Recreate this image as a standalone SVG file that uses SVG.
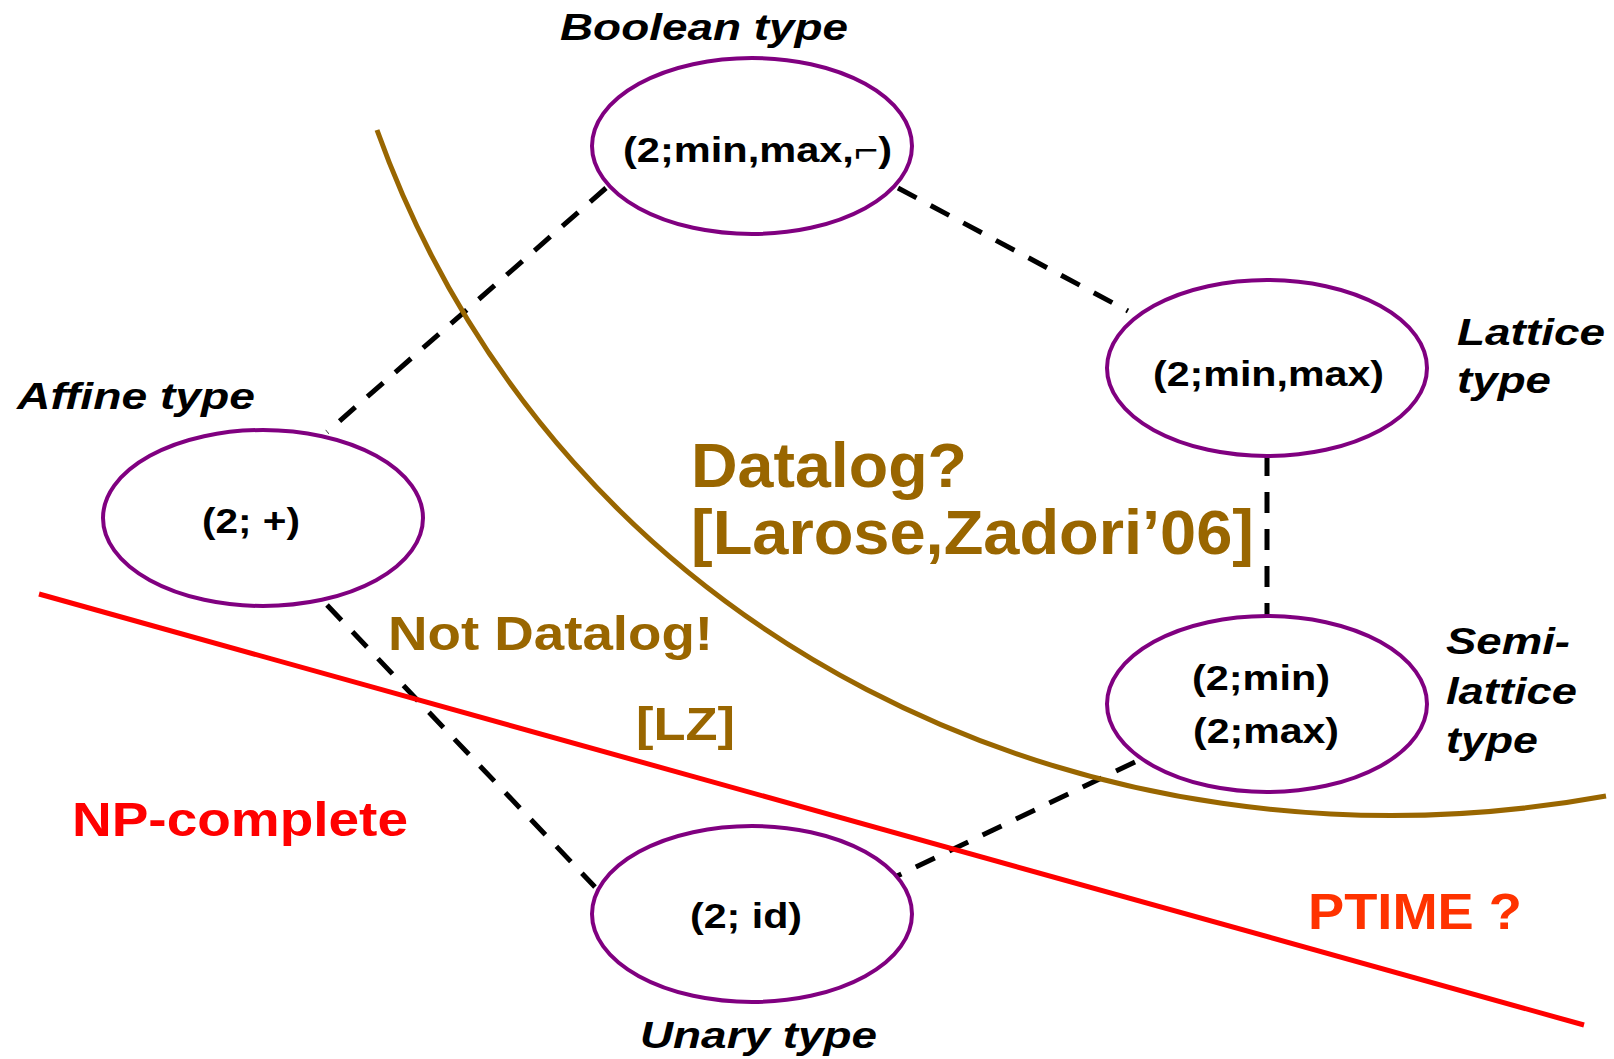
<svg xmlns="http://www.w3.org/2000/svg" width="1614" height="1059" viewBox="0 0 1614 1059">
  <style>
    .node { fill: none; stroke: #800080; stroke-width: 4; }
    .val { font-family: "Liberation Sans", Arial, sans-serif; font-weight: bold; font-size: 35px; fill: #000; }
    .lbl { font-family: "Liberation Sans", Arial, sans-serif; font-weight: bold; font-style: italic; font-size: 37px; fill: #000; }
    .edge { fill: none; stroke: #000; stroke-width: 5; stroke-dasharray: 21 16; }
    .brown { font-family: "Liberation Sans", Arial, sans-serif; font-weight: bold; fill: #996600; }
    .red { font-family: "Liberation Sans", Arial, sans-serif; font-weight: bold; }
  </style>
  <rect width="1614" height="1059" fill="#fff"/>

  <!-- dashed order relations between clone types -->
  <g id="connectors">
    <line class="edge" x1="606" y1="188" x2="327" y2="432"/>
    <line class="edge" x1="898" y1="188" x2="1128" y2="311"/>
    <line class="edge" x1="1267" y1="455" x2="1267" y2="617"/>
    <line class="edge" x1="327" y1="605" x2="595" y2="887"/>
    <line class="edge" x1="1135" y1="762" x2="897" y2="876"/>
  </g>

  <!-- Datalog boundary curve -->
  <path id="datalog-boundary" d="M377 130 C560 640 1090 890 1606 796" fill="none" stroke="#996600" stroke-width="5"/>

  <!-- NP-complete / PTIME separating line -->
  <line id="complexity-boundary" x1="39" y1="594" x2="1584" y2="1025" stroke="#FF0000" stroke-width="5"/>

  <g id="boolean">
    <ellipse class="node" cx="752" cy="146" rx="160" ry="88"/>
    <text class="val" x="623" y="162" textLength="269" lengthAdjust="spacingAndGlyphs">(2;min,max,⌐)</text>
    <text class="lbl" x="560" y="40" textLength="288" lengthAdjust="spacingAndGlyphs">Boolean type</text>
  </g>

  <g id="lattice">
    <ellipse class="node" cx="1267" cy="368" rx="160" ry="88"/>
    <text class="val" x="1153" y="386" textLength="231" lengthAdjust="spacingAndGlyphs">(2;min,max)</text>
    <text class="lbl" x="1457" y="345" textLength="148" lengthAdjust="spacingAndGlyphs">Lattice</text>
    <text class="lbl" x="1457" y="393" textLength="94" lengthAdjust="spacingAndGlyphs">type</text>
  </g>

  <g id="affine">
    <ellipse class="node" cx="263" cy="518" rx="160" ry="88"/>
    <text class="val" x="202" y="533" textLength="98" lengthAdjust="spacingAndGlyphs">(2; +)</text>
    <text class="lbl" x="17" y="409" textLength="238" lengthAdjust="spacingAndGlyphs">Affine type</text>
  </g>

  <g id="semilattice">
    <ellipse class="node" cx="1267" cy="704" rx="160" ry="88"/>
    <text class="val" x="1192" y="690" textLength="138" lengthAdjust="spacingAndGlyphs">(2;min)</text>
    <text class="val" x="1193" y="743" textLength="146" lengthAdjust="spacingAndGlyphs">(2;max)</text>
    <text class="lbl" x="1446" y="654" textLength="124" lengthAdjust="spacingAndGlyphs">Semi-</text>
    <text class="lbl" x="1446" y="704" textLength="131" lengthAdjust="spacingAndGlyphs">lattice</text>
    <text class="lbl" x="1446" y="753" textLength="92" lengthAdjust="spacingAndGlyphs">type</text>
  </g>

  <g id="unary">
    <ellipse class="node" cx="752" cy="914" rx="160" ry="88"/>
    <text class="val" x="690" y="928" textLength="112" lengthAdjust="spacingAndGlyphs">(2; id)</text>
    <text class="lbl" x="640" y="1048" textLength="237" lengthAdjust="spacingAndGlyphs">Unary type</text>
  </g>

  <!-- region annotations -->
  <g id="annotations">
    <text class="brown" x="691" y="487" font-size="63" textLength="276" lengthAdjust="spacingAndGlyphs">Datalog?</text>
    <text class="brown" x="691" y="554" font-size="63" textLength="563" lengthAdjust="spacingAndGlyphs">[Larose,Zadori’06]</text>
    <text class="brown" x="388" y="650" font-size="49" textLength="325" lengthAdjust="spacingAndGlyphs">Not Datalog!</text>
    <text class="brown" x="636" y="740" font-size="47" textLength="99" lengthAdjust="spacingAndGlyphs">[LZ]</text>
    <text class="red" x="72" y="836" font-size="48" fill="#FF0000" textLength="336" lengthAdjust="spacingAndGlyphs">NP-complete</text>
    <text class="red" x="1308" y="929" font-size="50" fill="#FF3300" textLength="214" lengthAdjust="spacingAndGlyphs">PTIME ?</text>
  </g>
</svg>
